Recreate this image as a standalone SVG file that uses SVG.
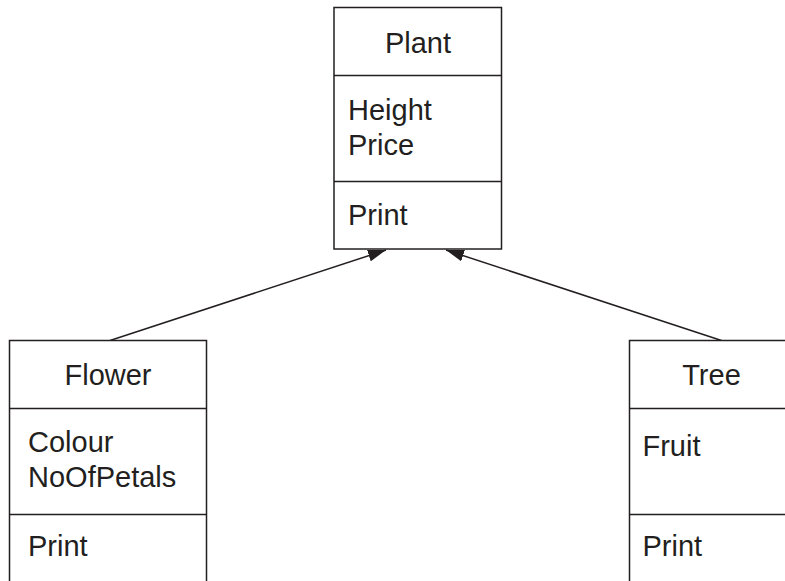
<svg xmlns="http://www.w3.org/2000/svg" width="785" height="581" viewBox="0 0 785 581">
<defs>
<style>
.box{fill:#fff;stroke:#231f20;stroke-width:1.5}
.t{font-family:"Liberation Sans",Arial,sans-serif;font-size:29px;fill:#231f20}
.c{text-anchor:middle}
.edge{stroke:#231f20;stroke-width:1.5;fill:none}
</style>
<marker id="arr" viewBox="0 0 18 12" refX="18" refY="6" markerWidth="18" markerHeight="12" markerUnits="userSpaceOnUse" orient="auto">
<path d="M0,0 L18,6 L0,12 Z" fill="#231f20"/>
</marker>
</defs>
<rect width="785" height="581" fill="#fff"/>
<g id="connectors">
<line class="edge" x1="110" y1="340.5" x2="386" y2="250" marker-end="url(#arr)"/>
<line class="edge" x1="721.5" y1="340.5" x2="446" y2="250" marker-end="url(#arr)"/>
</g>
<g id="plant">
<rect class="box" x="334" y="7.5" width="167.5" height="241.5"/>
<line class="box" x1="334" y1="75.5" x2="501.5" y2="75.5"/>
<line class="box" x1="334" y1="181.5" x2="501.5" y2="181.5"/>
<text class="t c" x="418" y="53">Plant</text>
<text class="t" x="348" y="120">Height</text>
<text class="t" x="348" y="155">Price</text>
<text class="t" x="348" y="225">Print</text>
</g>
<g id="flower">
<rect class="box" x="9.5" y="340.5" width="197" height="260"/>
<line class="box" x1="9.5" y1="408.5" x2="206.5" y2="408.5"/>
<line class="box" x1="9.5" y1="514.5" x2="206.5" y2="514.5"/>
<text class="t c" x="108" y="385">Flower</text>
<text class="t" x="28" y="452">Colour</text>
<text class="t" x="28" y="487">NoOfPetals</text>
<text class="t" x="28" y="556">Print</text>
</g>
<g id="tree">
<rect class="box" x="629.5" y="340.5" width="180" height="260"/>
<line class="box" x1="629.5" y1="408.5" x2="809.5" y2="408.5"/>
<line class="box" x1="629.5" y1="514.5" x2="809.5" y2="514.5"/>
<text class="t c" x="711.5" y="385">Tree</text>
<text class="t" x="642.5" y="456">Fruit</text>
<text class="t" x="642.5" y="556">Print</text>
</g>
</svg>
